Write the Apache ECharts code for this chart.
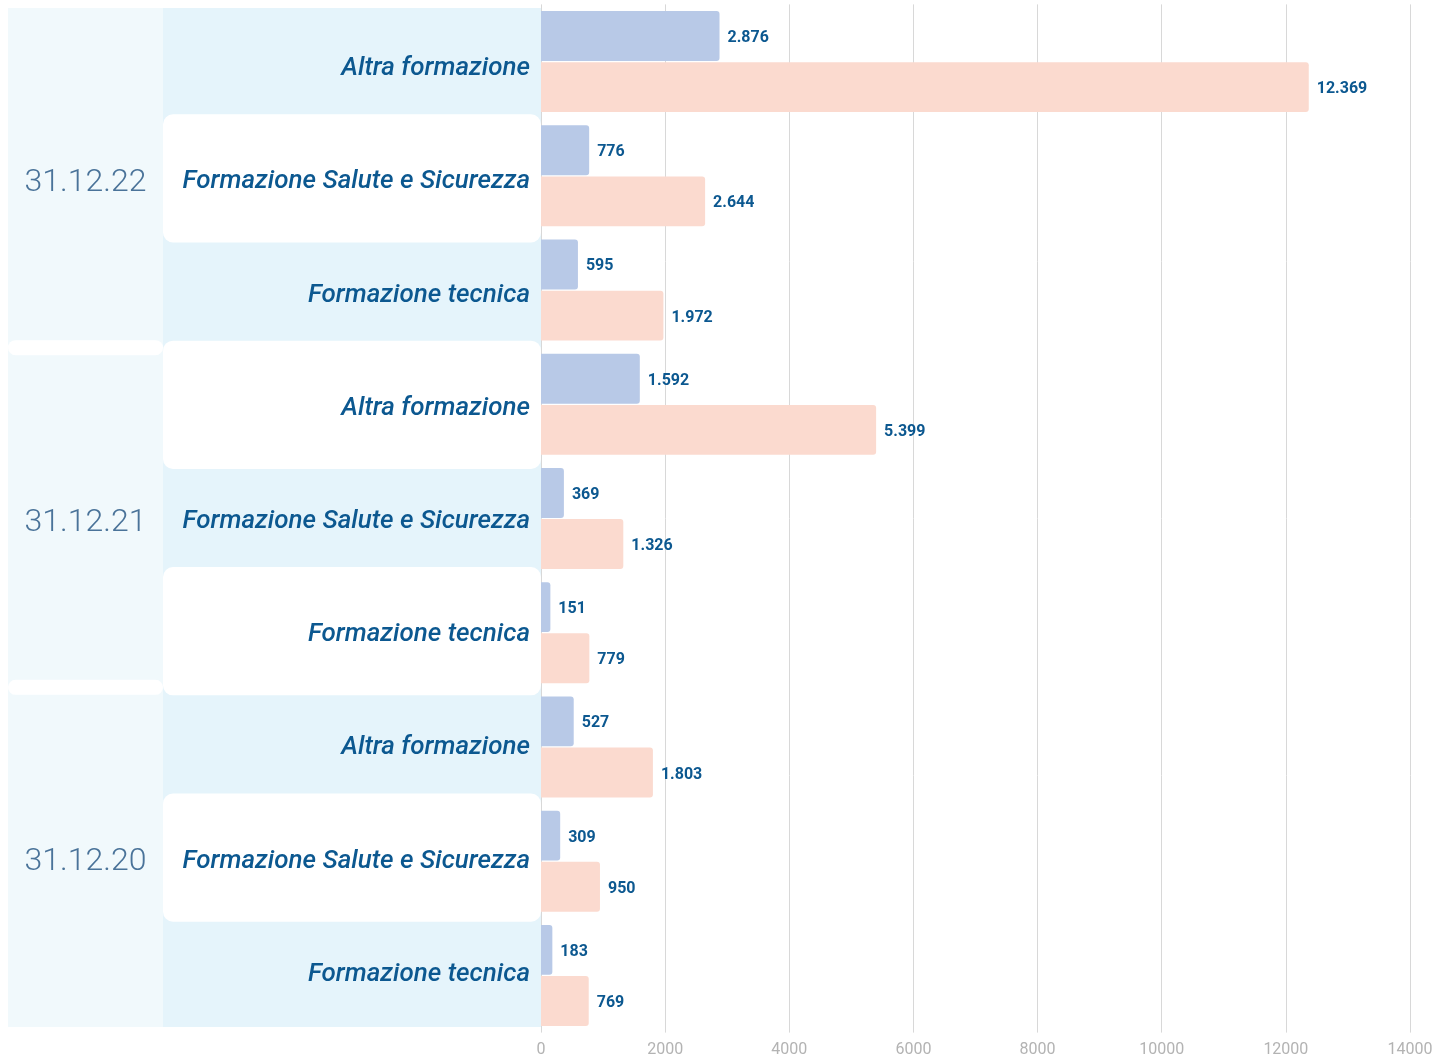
<!DOCTYPE html>
<html lang="it">
<head>
<meta charset="utf-8">
<title>Formazione</title>
<script src="https://cdn.jsdelivr.net/npm/echarts@6/dist/echarts.min.js"></script>
<style>
  html, body { margin: 0; padding: 0; background: #ffffff; }
  #chart { width: 1453px; height: 1055px; }
</style>
</head>
<body>
<div id="chart"></div>
<script>
// Reference dates (groups) and training types (rows within each group)
const dates = ['31.12.22', '31.12.21', '31.12.20'];
const types = ['Altra formazione', 'Formazione Salute e Sicurezza', 'Formazione tecnica'];

// Values per row, ordered date by date, type by type
const firstValues  = [2876, 776, 595, 1592, 369, 151, 527, 309, 183];
const secondValues = [12369, 2644, 1972, 5399, 1326, 779, 1803, 950, 769];

// Value axis ticks
const axisMin = 0;
const axisMax = 14000;
const axisStep = 2000;

// One row key per date/type pair
const rowKeys = [];
dates.forEach(d => types.forEach(t => rowKeys.push(d + '|' + t)));

const fmtIt = v => String(v).replace(/\B(?=(\d{3})+(?!\d))/g, '.');

const FONT = 'Roboto, "Noto Sans", sans-serif';
const LABEL_BLUE = '#0c5890';

const chart = echarts.init(document.getElementById('chart'), null, { renderer: 'canvas' });

const TOP = 8, BOTTOM = 28;

chart.setOption({
  animation: false,
  backgroundColor: '#ffffff',
  grid: [
    // bars
    { left: 541, right: 43, top: 4.4, bottom: 22.4, containLabel: false, outerBoundsMode: 'none' },
    // category column
    { left: 163, width: 378, top: TOP, bottom: BOTTOM, show: true, backgroundColor: '#e5f4fb', borderWidth: 0, outerBoundsMode: 'none' },
    // date column
    { left: 8, width: 155, top: TOP, bottom: BOTTOM, show: true, backgroundColor: '#f1f9fc', borderWidth: 0, outerBoundsMode: 'none' }
  ],
  xAxis: [
    {
      gridIndex: 0, type: 'value', min: axisMin, max: axisMax, interval: axisStep,
      axisLine: { show: false }, axisTick: { show: false },
      splitLine: { lineStyle: { color: '#d8d8d8', width: 1 } },
      axisLabel: { color: '#b3b3b3', fontSize: 16, fontFamily: FONT, margin: 9, formatter: v => String(v) }
    },
    { gridIndex: 1, type: 'value', min: 0, max: 1, show: false },
    { gridIndex: 2, type: 'value', min: 0, max: 1, show: false }
  ],
  yAxis: [
    {
      gridIndex: 0, type: 'category', data: rowKeys, inverse: true,
      axisLine: { show: false }, axisTick: { show: false }, axisLabel: { show: false }
    },
    {
      // training type labels, drawn inside the category column
      gridIndex: 1, type: 'category', data: rowKeys, inverse: true, position: 'right', z: 10,
      axisLine: { show: false }, axisTick: { show: false }, splitLine: { show: false },
      axisLabel: {
        inside: true,
        margin: 11,
        verticalAlign: 'top',
        lineHeight: 8,
        formatter: v => v.split('|')[1],
        color: LABEL_BLUE, fontSize: 26, fontWeight: 500, fontStyle: 'italic', fontFamily: FONT
      }
    },
    { gridIndex: 2, type: 'category', data: dates, inverse: true, show: false }
  ],
  series: [
    {
      // white cards behind every second row
      type: 'custom', xAxisIndex: 1, yAxisIndex: 1, z: 1, silent: true,
      data: rowKeys.map((k, i) => [0, i]).filter(d => d[1] % 2 === 1),
      renderItem: (params, api) => {
        const c = api.coord([0, api.value(1)]);
        const band = api.size([0, 1])[1];
        const cs = params.coordSys;
        return {
          type: 'rect',
          shape: { x: cs.x, y: c[1] - band / 2 - 7, width: cs.width, height: band + 15, r: 10 },
          style: { fill: '#ffffff' }
        };
      }
    },
    {
      // date group labels and separators
      type: 'custom', xAxisIndex: 2, yAxisIndex: 2, z: 1, silent: true,
      data: dates.map((d, i) => [0, i]),
      renderItem: (params, api) => {
        const idx = api.value(1);
        const c = api.coord([0, idx]);
        const band = api.size([0, 1])[1];
        const cs = params.coordSys;
        const children = [];
        if (idx > 0) {
          children.push({
            type: 'rect',
            shape: { x: cs.x, y: c[1] - band / 2 - 7.5, width: cs.width, height: 15, r: 7.5 },
            style: { fill: '#ffffff' }
          });
        }
        children.push({
          type: 'text',
          style: {
            x: cs.x + cs.width / 2, y: c[1] + 5,
            text: dates[idx], align: 'center', verticalAlign: 'middle',
            fill: '#4a7399', fontSize: 32, fontWeight: 300, fontFamily: FONT
          }
        });
        return { type: 'group', children };
      }
    },
    {
      type: 'bar', xAxisIndex: 0, yAxisIndex: 0,
      data: firstValues,
      barCategoryGap: '11.6%', barGap: '2.5%',
      itemStyle: { color: '#b8c9e7', borderRadius: [0, 3, 3, 0] },
      label: {
        show: true, position: 'right', distance: 8, offset: [0, 2],
        formatter: p => fmtIt(p.value),
        color: LABEL_BLUE, fontSize: 16, fontWeight: 'bold', fontFamily: FONT
      }
    },
    {
      type: 'bar', xAxisIndex: 0, yAxisIndex: 0,
      data: secondValues,
      barCategoryGap: '11.6%', barGap: '2.5%',
      itemStyle: { color: '#fbdacf', borderRadius: [0, 3, 3, 0] },
      label: {
        show: true, position: 'right', distance: 8, offset: [0, 2],
        formatter: p => fmtIt(p.value),
        color: LABEL_BLUE, fontSize: 16, fontWeight: 'bold', fontFamily: FONT
      }
    }
  ]
});
</script>
</body>
</html>
